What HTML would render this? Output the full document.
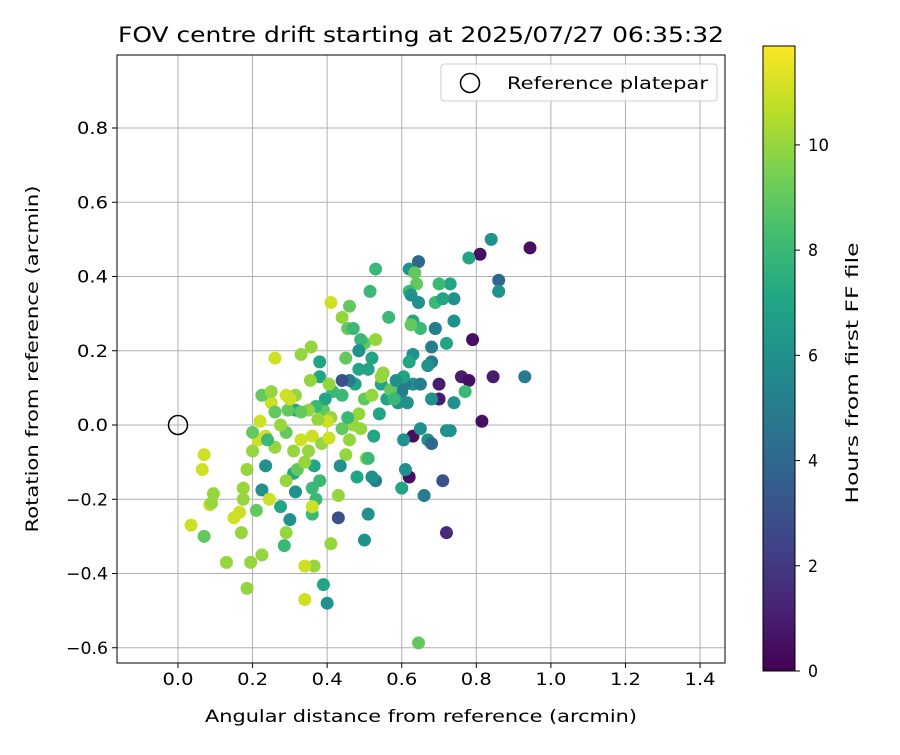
<!DOCTYPE html>
<html><head><meta charset="utf-8"><style>
body{margin:0;background:#fff;width:900px;height:750px;overflow:hidden;font-family:"Liberation Sans","DejaVu Sans",sans-serif}
svg text{font-family:"DejaVu Sans","Liberation Sans",sans-serif;fill:#000}
</style></head><body>
<svg id="c" width="900" height="750"></svg>
<script>
const xs=[0.944,0.84,0.81,0.78,0.86,0.86,0.93,0.845,0.76,0.78,0.79,0.815,0.74,0.74,0.73,0.70,0.72,0.69,0.69,0.71,0.74,0.73,0.72,0.77,0.70,0.70,0.68,0.68,0.67,0.68,0.63,0.65,0.63,0.625,0.62,0.645,0.635,0.64,0.62,0.625,0.645,0.63,0.65,0.61,0.6,0.59,0.615,0.67,0.68,0.63,0.65,0.71,0.62,0.66,0.72,0.645,0.605,0.6,0.61,0.545,0.54,0.56,0.565,0.545,0.53,0.52,0.51,0.5,0.53,0.515,0.50,0.49,0.485,0.52,0.51,0.485,0.46,0.455,0.47,0.45,0.475,0.46,0.44,0.44,0.415,0.41,0.44,0.46,0.45,0.48,0.435,0.43,0.39,0.41,0.43,0.39,0.41,0.40,0.375,0.38,0.38,0.405,0.395,0.37,0.35,0.36,0.385,0.365,0.36,0.37,0.36,0.36,0.365,0.34,0.34,0.40,0.357,0.355,0.33,0.315,0.315,0.33,0.295,0.30,0.29,0.31,0.31,0.315,0.32,0.29,0.30,0.275,0.285,0.29,0.26,0.25,0.225,0.235,0.26,0.235,0.225,0.245,0.22,0.215,0.20,0.21,0.225,0.195,0.185,0.165,0.175,0.175,0.185,0.2,0.13,0.15,0.17,0.095,0.085,0.09,0.07,0.065,0.07,0.035,0.47,0.49,0.505,0.525,0.51,0.485,0.50,0.52,0.57,0.58,0.605,0.62,0.585,0.53,0.55,0.44,0.455,0.405,0.29,0.25,0.26,0.275,0.24,0.33,0.34,0.35,0.38,0.69];
const ys=[0.477,0.50,0.46,0.45,0.39,0.36,0.13,0.13,0.13,0.12,0.23,0.01,0.28,0.34,0.38,0.38,0.22,0.26,0.33,0.34,0.06,-0.015,-0.015,0.09,0.11,0.07,0.07,0.17,0.16,0.21,0.19,0.26,0.28,0.27,0.42,0.44,0.41,0.38,0.36,0.35,0.33,0.11,0.11,0.11,0.09,0.06,0.06,-0.04,-0.05,-0.03,-0.01,-0.15,-0.14,-0.19,-0.29,-0.587,-0.04,-0.17,-0.12,0.11,0.03,0.07,0.29,0.13,-0.15,-0.14,-0.24,-0.31,0.42,0.36,0.22,0.23,0.20,0.18,0.15,0.15,0.32,0.26,0.26,0.18,0.11,0.12,0.12,0.08,0.09,0.33,0.29,-0.04,-0.08,-0.14,-0.11,-0.25,-0.43,-0.32,-0.19,0.04,0.02,0.01,0.015,0.13,0.17,0.11,0.07,0.05,0.04,-0.03,-0.05,-0.11,-0.17,-0.2,-0.24,-0.22,-0.38,-0.38,-0.47,-0.48,0.21,0.12,0.19,0.08,0.04,0.035,0.04,0.07,-0.02,-0.07,-0.13,-0.18,-0.12,-0.15,-0.255,-0.22,-0.325,-0.29,0.18,0.06,0.08,-0.03,-0.06,-0.11,-0.175,-0.2,0.01,-0.04,-0.07,-0.23,-0.35,-0.37,-0.44,-0.235,-0.2,-0.17,-0.12,-0.02,-0.37,-0.25,-0.29,-0.185,-0.215,-0.21,-0.08,-0.12,-0.30,-0.27,0.00,-0.01,-0.09,-0.03,-0.09,0.03,0.07,0.08,0.095,0.07,0.13,0.17,0.12,0.23,0.14,-0.01,0.02,-0.035,0.08,0.09,0.035,0,-0.04,-0.04,-0.10,-0.07,-0.15,0.26];
const hs=[0.5,6,0.5,7,4,6,5,1,1,0.5,0.5,0.5,6,6,7,8,7,7,8,7,6,6,6,8,1,1,6,5,6,5,6,8,7,9,6,4,9,9,8,6,6,6,5,5,5,6,6,6,4,0.5,6,3,0.5,5,1.5,9,6,7,6,7,7,7,8,10,5,6,6,6,8,8,9,8,6,7,7,7,9,9,8,9,7,5,3,8,8,11,10,10,10,7,6,3,7,10,10,9,10,11,10,7,7,10,7,8,10,11,10,7,8,8,8,11,10,11,11,6,10,10,10,10,7,9,9,11,9,10,7,6,9,10,6,7,8,10,11,11,9,11,10,6,6,11,11,11,10,9,10,10,10,11,10,10,10,9,10,11,10,10,11,10,11,11,9,11,10,10,10,7,8,10,9,10,9,8,7,7,6,10,10,9,8,11,11,10,9,10,8,11,10,10,8,5];
const xTicks=[0.0,0.2,0.4,0.6,0.8,1.0,1.2,1.4];
const yTicks=[-0.6,-0.4,-0.2,0.0,0.2,0.4,0.6,0.8];
const cTicks=[0,2,4,6,8,10];
const L=117,R=725,T=55,B=663;
const X=v=>178+v*372.9, Y=v=>425-v*371.25;
const CB={x:763,w:32,top:46,bot:671,max:11.88};
const CY=v=>CB.bot-v/CB.max*(CB.bot-CB.top);
const vir=[[68,1,84],[72,35,116],[64,67,135],[52,94,141],[41,120,142],[32,144,140],[34,167,132],[68,190,112],[121,209,81],[189,222,38],[253,231,37]];
function col(h){let t=Math.max(0,Math.min(1,h/CB.max))*10,i=Math.min(9,Math.floor(t)),f=t-i;const a=vir[i],b=vir[i+1];return 'rgb('+a.map((c,k)=>Math.round(c+(b[k]-c)*f)).join(',')+')';}
const s=document.getElementById('c'),NS='http://www.w3.org/2000/svg';
function mk(t,at,p){const e=document.createElementNS(NS,t);for(const k in at)e.setAttribute(k,at[k]);(p||s).appendChild(e);return e;}
function tx(x,y,str,anchor,size,name,extra){const e=mk('text',Object.assign({x:x,y:y,'text-anchor':anchor,'font-size':size},extra||{}));e.textContent=str;return e;}
xTicks.forEach(v=>{const l=mk('line',{x1:X(v),x2:X(v),y1:T,y2:B,stroke:'#b0b0b0','stroke-width':1});


const t=mk('line',{x1:X(v),x2:X(v),y1:B,y2:B+5,stroke:'#000'});


tx(X(v),B+22,v.toFixed(1),'middle',17,'x-tick-label',{textLength:31,lengthAdjust:'spacingAndGlyphs'});});
yTicks.forEach(v=>{const l=mk('line',{x1:L,x2:R,y1:Y(v),y2:Y(v),stroke:'#b0b0b0','stroke-width':1});


const t=mk('line',{x1:L-5,x2:L,y1:Y(v),y2:Y(v),stroke:'#000'});


tx(L-9,Y(v)+6,(v<0?'\u2212'+Math.abs(v).toFixed(1):v.toFixed(1)),'end',17,'y-tick-label',{textLength:v<0?42:31,lengthAdjust:'spacingAndGlyphs'});});
xs.forEach((x,i)=>{const c=mk('circle',{cx:X(x),cy:Y(ys[i]),r:6.5,fill:col(hs[i])});

});
const rc=mk('circle',{cx:X(0),cy:Y(0),r:9.5,fill:'none',stroke:'#000','stroke-width':1.5});


const fr=mk('rect',{x:L,y:T,width:R-L,height:B-T,fill:'none',stroke:'#000','stroke-width':1});


const lg=mk('g',{});


mk('rect',{x:441,y:64,width:276,height:37,rx:3,fill:'#fff','fill-opacity':0.8,stroke:'#ccc'},lg);
mk('circle',{cx:470,cy:83,r:9.5,fill:'none',stroke:'#000','stroke-width':1.5},lg);
tx(507,89,'Reference platepar','start',17,'legend-label',{textLength:201,lengthAdjust:'spacingAndGlyphs'});
tx(421,42,'FOV centre drift starting at 2025/07/27 06:35:32','middle',21,'chart-title',{textLength:606,lengthAdjust:'spacingAndGlyphs'});
tx(421,722,'Angular distance from reference (arcmin)','middle',17,'x-axis-title',{textLength:432,lengthAdjust:'spacingAndGlyphs'});
tx(0,0,'Rotation from reference (arcmin)','middle',17,'y-axis-title',{transform:'translate(38,359) rotate(-90)',textLength:347,lengthAdjust:'spacingAndGlyphs'});
const d=mk('defs',{});const g=mk('linearGradient',{id:'vg',x1:0,y1:1,x2:0,y2:0},d);
vir.forEach((c,i)=>mk('stop',{offset:i/10,'stop-color':'rgb('+c.join(',')+')'},g));
const cb=mk('rect',{x:CB.x,y:CB.top,width:CB.w,height:CB.bot-CB.top,fill:'url(#vg)',stroke:'#000'});


cTicks.forEach(v=>{const t=mk('line',{x1:CB.x+CB.w,x2:CB.x+CB.w+5,y1:CY(v),y2:CY(v),stroke:'#000'});


tx(CB.x+CB.w+13,CY(v)+6,String(v),'start',17,'colorbar-tick-label',{textLength:v>=10?21:10,lengthAdjust:'spacingAndGlyphs'});});
tx(0,0,'Hours from first FF file','middle',17,'colorbar-title',{transform:'translate(858,373) rotate(-90)',textLength:261,lengthAdjust:'spacingAndGlyphs'});
</script>
</body></html>
